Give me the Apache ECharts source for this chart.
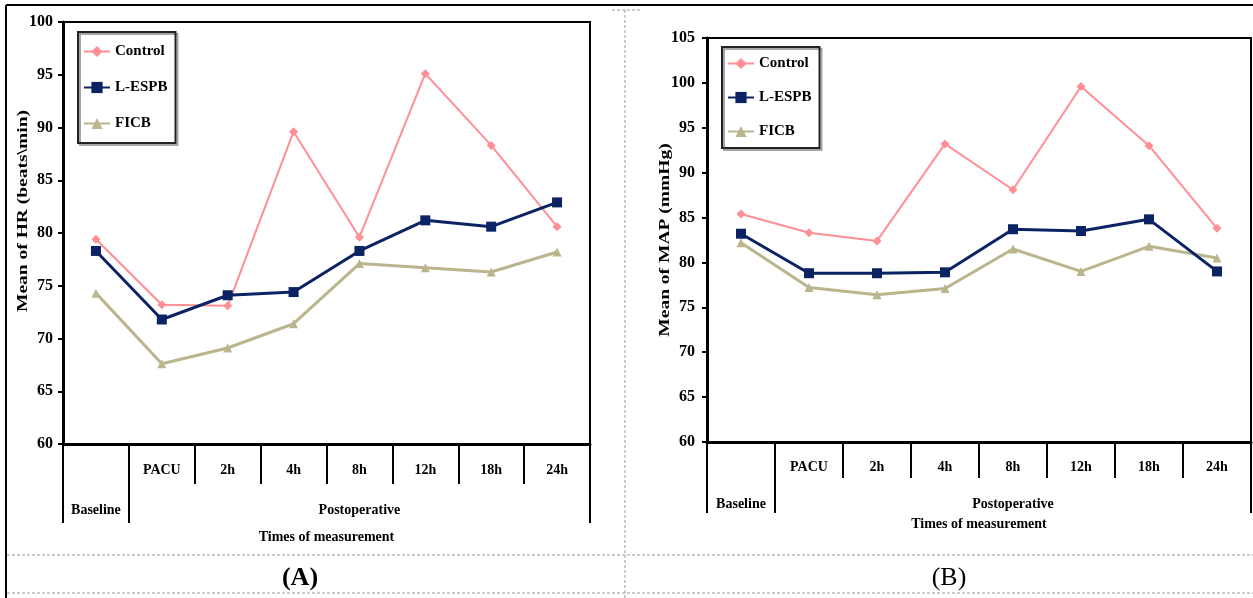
<!DOCTYPE html>
<html>
<head>
<meta charset="utf-8">
<script src="https://cdn.jsdelivr.net/npm/echarts@6/dist/echarts.min.js"></script>
<style>
  html, body { margin: 0; padding: 0; background: #fff; }
  #chart { width: 1253px; height: 598px; }
</style>
</head>
<body>
<div id="chart"></div>
<script>
// time points and the two groups under the axis
const categories = ['Baseline', 'PACU', '2h', '4h', '8h', '12h', '18h', '24h']
const groups = ['Baseline', 'Postoperative']
const groupBounds = [0, 1, categories.length]

// (A) heart rate
const hrControl = [79.4, 73.2, 73.1, 89.6, 79.6, 95.1, 88.3, 80.6]
const hrEspb = [78.3, 71.8, 74.1, 74.4, 78.3, 81.2, 80.6, 82.9]
const hrFicb = [74.3, 67.6, 69.1, 71.4, 77.1, 76.7, 76.3, 78.2]

// (B) mean arterial pressure
const mapControl = [85.4, 83.3, 82.4, 93.2, 88.1, 99.6, 93.0, 83.8]
const mapEspb = [83.2, 78.8, 78.8, 78.9, 83.7, 83.5, 84.8, 79.0]
const mapFicb = [82.2, 77.2, 76.4, 77.1, 81.5, 79.0, 81.8, 80.5]

const FONT = "'Liberation Serif', 'Times New Roman', serif"
const black = '#000'

const colors = {
  Control: '#FF8F96',
  'L-ESPB': '#0B2363',
  FICB: '#BBB58E',
}

const chart = echarts.init(document.getElementById('chart'))

// builds the two x axes (time points + group row) for one panel
const makeXAxes = (gridIndex, cfg) => [
  {
    type: 'category',
    gridIndex,
    data: categories,
    boundaryGap: true,
    axisLine: { lineStyle: { color: black, width: 3 } },
    axisTick: { show: true, interval: 0, length: cfg.tickLen, lineStyle: { color: black, width: 2 } },
    axisLabel: {
      interval: 0,
      margin: cfg.labelMargin,
      formatter: (v, i) => (i === 0 ? '' : v),
      fontFamily: FONT,
      fontWeight: 'bold',
      fontSize: 14,
      color: black,
    },
  },
  {
    type: 'value',
    gridIndex,
    position: 'bottom',
    min: 0,
    max: categories.length,
    axisLine: { show: false },
    splitLine: { show: false },
    axisTick: {
      show: true,
      customValues: groupBounds,
      length: cfg.outerLen,
      lineStyle: { color: black, width: 2 },
    },
    axisLabel: {
      customValues: [(groupBounds[0] + groupBounds[1]) / 2, (groupBounds[1] + groupBounds[2]) / 2],
      formatter: (v) => (v < groupBounds[1] ? groups[0] : groups[1]),
      margin: cfg.groupMargin,
      fontFamily: FONT,
      fontWeight: 'bold',
      fontSize: 14,
      color: black,
    },
    name: 'Times of measurement',
    nameLocation: 'middle',
    nameGap: cfg.nameGap,
    nameTextStyle: { fontFamily: FONT, fontWeight: 'bold', fontSize: 14, color: black },
  },
]

const makeYAxis = (gridIndex, cfg) => ({
  type: 'value',
  gridIndex,
  min: cfg.min,
  max: cfg.max,
  interval: 5,
  axisLine: { show: true, lineStyle: { color: black, width: 3 } },
  axisTick: { show: true, length: 5, lineStyle: { color: black, width: 2 } },
  splitLine: { show: false },
  axisLabel: { margin: cfg.margin, fontFamily: FONT, fontWeight: 'bold', fontSize: 16, color: black },
})

const makeSeries = (xAxisIndex, yAxisIndex, control, espb, ficb) => [
  {
    name: 'Control',
    type: 'line',
    xAxisIndex,
    yAxisIndex,
    data: control,
    symbol: 'diamond',
    symbolSize: 9,
    lineStyle: { width: 2, color: colors.Control },
    itemStyle: { color: colors.Control },
    z: 3,
  },
  {
    name: 'L-ESPB',
    type: 'line',
    xAxisIndex,
    yAxisIndex,
    data: espb,
    symbol: 'rect',
    symbolSize: 10,
    lineStyle: { width: 3, color: colors['L-ESPB'] },
    itemStyle: { color: colors['L-ESPB'] },
    z: 4,
  },
  {
    name: 'FICB',
    type: 'line',
    xAxisIndex,
    yAxisIndex,
    data: ficb,
    symbol: 'triangle',
    symbolSize: 9,
    lineStyle: { width: 3, color: colors.FICB },
    itemStyle: { color: colors.FICB },
    z: 2,
  },
]

const makeLegend = (left, top, gap, padTop) => ({
  orient: 'vertical',
  left,
  top,
  itemGap: gap,
  itemWidth: 26,
  itemHeight: 14,
  padding: [padTop, 8, padTop, 5],
  borderColor: '#222',
  borderWidth: 2,
  shadowColor: 'rgba(0,0,0,0.35)',
  shadowOffsetX: 2,
  shadowOffsetY: 2,
  data: ['Control', 'L-ESPB', 'FICB'],
  textStyle: { fontFamily: FONT, fontWeight: 'bold', fontSize: 15, color: black },
})

// rotated y titles, stretched along the text like the source figure
const yTitle = (text, x, y) => ({
  type: 'text',
  x,
  y,
  rotation: Math.PI / 2,
  scaleX: 1.3,
  style: { text, fontFamily: FONT, fontWeight: 'bold', fontSize: 15, fill: black, align: 'center', verticalAlign: 'middle' },
})

const dash = { stroke: '#999', lineWidth: 1, lineDash: [3, 2] }

const option = {
  animation: false,
  backgroundColor: '#fff',
  grid: [
    { left: 63, top: 22, width: 527, height: 422, show: true, borderColor: black, borderWidth: 2 },
    { left: 707, top: 38, width: 544, height: 404, show: true, borderColor: black, borderWidth: 2 },
  ],
  legend: [makeLegend(78, 32, 21, 12), makeLegend(722, 47, 19, 9)],
  xAxis: [
    ...makeXAxes(0, { tickLen: 40, outerLen: 79, labelMargin: 19, groupMargin: 59, nameGap: 86 }),
    ...makeXAxes(1, { tickLen: 36, outerLen: 71, labelMargin: 18, groupMargin: 55, nameGap: 75 }),
  ],
  yAxis: [
    makeYAxis(0, { min: 60, max: 100, margin: 10 }),
    makeYAxis(1, { min: 60, max: 105, margin: 12 }),
  ],
  series: [
    ...makeSeries(0, 0, hrControl, hrEspb, hrFicb),
    ...makeSeries(2, 1, mapControl, mapEspb, mapFicb),
  ],
  graphic: [
    { type: 'line', shape: { x1: 6, y1: 5, x2: 1253, y2: 5 }, style: { stroke: black, lineWidth: 2 } },
    { type: 'line', shape: { x1: 6, y1: 5, x2: 6, y2: 598 }, style: { stroke: black, lineWidth: 2 } },
    { type: 'line', shape: { x1: 625, y1: 10, x2: 625, y2: 598 }, style: dash },
    { type: 'line', shape: { x1: 612, y1: 10, x2: 640, y2: 10 }, style: dash },
    { type: 'line', shape: { x1: 7, y1: 555, x2: 1253, y2: 555 }, style: dash },
    { type: 'line', shape: { x1: 7, y1: 593, x2: 1253, y2: 593 }, style: dash },
    yTitle('Mean of HR (beats\\min)', 23, 211),
    yTitle('Mean of MAP (mmHg)', 665, 240),
    {
      type: 'text',
      x: 300,
      y: 578,
      style: { text: '(A)', fontFamily: FONT, fontWeight: 'bold', fontSize: 26, fill: black, align: 'center', verticalAlign: 'middle' },
    },
    {
      type: 'text',
      x: 949,
      y: 578,
      style: { text: '(B)', fontFamily: FONT, fontSize: 26, fill: black, align: 'center', verticalAlign: 'middle' },
    },
  ],
}

chart.setOption(option)
</script>
</body>
</html>
